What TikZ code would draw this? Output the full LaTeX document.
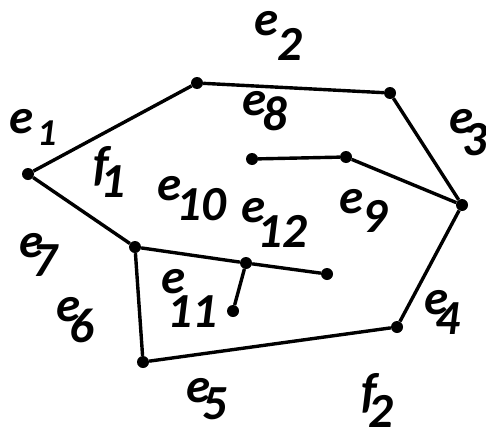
\documentclass[tikz,border=0pt]{standalone}
\usepackage{fontspec}
\setmainfont{Carlito}
\newcommand\sublab[4]{\makebox[0pt][l]{#1}\kern#2pt\raisebox{-#3pt}{#4}}
\begin{document}
\begin{tikzpicture}[x=1pt,y=-1pt,
  vtx/.style={circle,fill=black,inner sep=0pt,minimum size=12pt},
  edge/.style={line width=3.4pt},
  lab/.style={anchor=base west,inner sep=0pt,font=\fontsize{49}{58}\selectfont\bfseries\itshape}]
\useasboundingbox (0,0) rectangle (486,428);
\node[vtx] (A) at (28,174) {};
\node[vtx] (B) at (197,83) {};
\node[vtx] (C) at (390,93) {};
\node[vtx] (D) at (462,205) {};
\node[vtx] (E) at (397,327) {};
\node[vtx] (F) at (143,362) {};
\node[vtx] (G) at (135,247) {};
\node[vtx] (H) at (246,263) {};
\node[vtx] (I) at (327,274) {};
\node[vtx] (J) at (233,311) {};
\node[vtx] (K) at (252,159) {};
\node[vtx] (L) at (346,157) {};
\draw[edge] (A) -- (B) -- (C) -- (D) -- (E) -- (F) -- (G) -- (A);
\draw[edge] (G) -- (H) -- (I);
\draw[edge] (H) -- (J);
\draw[edge] (K) -- (L) -- (D);
\node[lab] (l1) at (9,133) {\sublab{e}{28}{12}{\fontsize{38}{44}\selectfont 1}};
\node[lab] (l2) at (254,35) {\sublab{e}{23}{25}{2}};
\node[lab] (l3) at (449,133) {\sublab{e}{13}{22}{3}};
\node[lab] (l4) at (424,314) {\sublab{e}{11}{20}{4}};
\node[lab] (l5) at (186,402) {\sublab{e}{16}{17}{5}};
\node[lab] (l6) at (56,321) {\sublab{e}{13}{21}{6}};
\node[lab] (l7) at (19,257) {\sublab{e}{13}{19}{7}};
\node[lab] (l8) at (242,115) {\sublab{e}{20}{15}{8}};
\node[lab] (l9) at (339,213) {\sublab{e}{23}{19}{9}};
\node[lab] (l10) at (157,200) {\sublab{e}{19}{20}{10}};
\node[lab] (l11) at (161,293) {\sublab{e}{6}{34}{11}};
\node[lab] (l12) at (241,222) {\sublab{e}{16}{25}{12}};
\node[lab] (f1) at (93,180) {\sublab{f}{7}{17}{1}};
\node[lab] (f2) at (361,407) {\sublab{f}{7}{20}{2}};
\end{tikzpicture}
\end{document}
